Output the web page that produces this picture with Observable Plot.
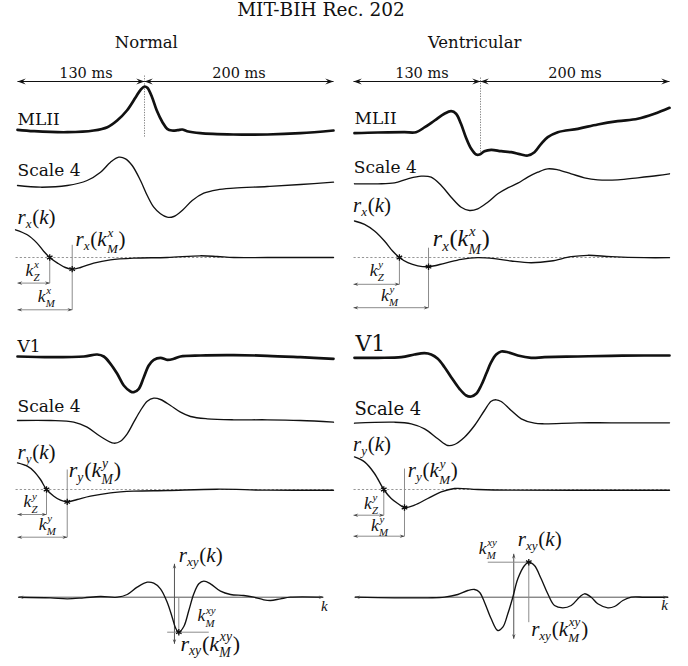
<!DOCTYPE html>
<html><head><meta charset="utf-8">
<script src="https://cdn.jsdelivr.net/npm/d3@7"></script>
<script src="https://cdn.jsdelivr.net/npm/@observablehq/plot@0.6"></script>
<style>
html,body{margin:0;padding:0;background:#fff;}
#title{width:642px;height:22px;line-height:20px;text-align:center;font-family:"DejaVu Serif",serif;font-size:18.5px;color:#111;}
#chart svg{display:block;}
</style></head><body>
<div id="title">MIT-BIH Rec. 202</div>
<div id="chart"></div>
<script>
// ---------- data: [time (ms, relative to the R mark), amplitude] ----------
const mliiNormal = [[-130,0.7],[-113,-0.7],[-79,-1.7],[-52,0],[-38,3.3],[-28,10],[-18,20],[-9,33.3],[-4,40.7],[0,44],[3,42.7],[8,33.3],[13,20],[19,8.3],[24,1.7],[29,0],[35,0.3],[40,1],[45,-0.7],[59,-2.7],[94,-4],[130,-4],[165,-2.7],[200,0]];
const mliiVentricular = [[-129,-2.7],[-105,-2],[-78,-1.7],[-66,-1.7],[-57,3.3],[-47,10],[-37,16.7],[-30,19.3],[-25,16.7],[-20,6.7],[-15,-6.7],[-9.5,-18.3],[-4.4,-24],[-1,-24],[4.2,-20.7],[11.3,-19.3],[21.9,-20.7],[32.5,-21.7],[43.1,-24],[50,-25],[57.1,-21.7],[64.2,-13.3],[71.2,-6.7],[81.8,-1.7],[103,1.7],[124.1,6],[145.3,9.3],[166.4,11.7],[184.1,16.7],[200,22.7]];
const scale4xNormal = [[-130,0],[-106.5,-1.7],[-79,0],[-58.7,5],[-45,13.3],[-34.8,23.3],[-26.3,28.3],[-19.4,26.7],[-12.6,20],[-4.1,5],[2.9,-10],[9.8,-21.7],[16.9,-28.3],[24,-31.7],[31,-31],[39.9,-25],[50.5,-15],[62.7,-7.7],[76.9,-4.3],[94.5,-2.7],[129.8,-1],[165,1],[200,3.3]];
const scale4xVentricular = [[-129,1.7],[-105,1.7],[-88,2.7],[-74.4,6.7],[-60.7,9.3],[-50.5,8.3],[-40.2,0],[-30,-11.7],[-19.8,-21.7],[-11.3,-25],[-2.8,-23.3],[7.7,-16.7],[18.3,-8.3],[28.9,-2.3],[39.5,2.3],[50,8.3],[60.6,13.3],[71.2,16.7],[81.8,15.7],[96,11.7],[110,7.7],[124.1,5.7],[145.3,5.7],[166.4,7.7],[187.6,10],[200,11.7]];
const v1Normal = [[-130,0],[-96,-0.7],[-62,0],[-48.4,2],[-41.7,0],[-34.8,-7.3],[-27.9,-17.3],[-21.2,-29],[-14.3,-35],[-11,-35.7],[-5.8,-32.3],[-0.7,-20.7],[4.5,-9],[9.8,-3.3],[16.9,-1.3],[24,-3.3],[31,-2.3],[38.1,0],[59.3,1],[94.5,1.3],[129.8,0.7],[165,-0.7],[200,-2.3]];
const v1Ventricular = [[-129,-1.3],[-105,-1.3],[-81,-0.7],[-67.6,2],[-57.3,3.3],[-50.5,2],[-43.7,-2.3],[-36.8,-10.7],[-30,-20.7],[-21.5,-32.3],[-14.6,-39],[-9.5,-40],[-4.4,-37.3],[0.7,-29],[6,-17.3],[11.3,-5.7],[16.6,2],[21.9,5],[28.9,4.3],[39.5,1],[53.6,-1.3],[67.7,-0.7],[103,0],[138.3,0.7],[173.5,1],[200,1]];
const scale4yNormal = [[-130,0],[-96,0],[-72.4,-1.7],[-58.7,-6.7],[-45,-16],[-31.4,-22.7],[-24.6,-20.7],[-17.7,-13.3],[-11,-1.7],[-4.1,10],[2.9,19.3],[9.8,22.3],[16.9,21],[27.5,15],[38.1,8.3],[48.7,4],[66.3,1.7],[94.5,0.7],[129.8,0.7],[165,0],[200,-1.7]];
const scale4yVentricular = [[-129,-2.7],[-88,-1.7],[-70.9,-3.3],[-57.3,-8.3],[-43.7,-18.3],[-33.5,-25],[-26.6,-24],[-16.4,-16.7],[-6.1,-5],[4.2,10],[11.3,19.3],[16.6,20.7],[21.9,19],[32.5,10],[43.1,1.7],[57.1,-2.7],[67.7,-3.3],[103,-2.3],[138.3,-2.3],[200,-2.3]];
// autocorrelations: [lag k (ms), r]
const rxNormal = [[-2,27.7],[10,22.7],[20,14.4],[27,6],[33,0],[41,-5.6],[49,-10],[56,-11.6],[64.5,-10],[78,-5.6],[95,-2.3],[119,-0.6],[154,0],[189,1.7],[207,1],[224.5,0],[260,0],[330,0]];
const rxVentricular = [[1,36.5],[11.3,33.2],[21.5,26.5],[31.7,16.5],[40,6.5],[47,0],[55.6,-5.2],[65.8,-8.3],[76.8,-9.2],[93.2,-5.8],[110.2,-1.8],[127.2,-0.2],[144.8,-1.2],[162.5,-3.5],[183.6,-5.2],[204.8,-3.5],[226,0.8],[243.5,2.2],[268.3,0.8],[303.5,-0.2],[330,-0.2]];
const ryNormal = [[0,26.6],[10,23.3],[16.7,18.3],[23.5,10],[29.7,0],[37.2,-6.7],[44,-10.7],[50.9,-12.4],[61.1,-10],[74.7,-6.7],[95.2,-3.4],[119,-1.7],[154,-1],[206.9,0.3],[259.8,-0.7],[330,-0.7]];
const ryVentricular = [[1,32.6],[11.3,27.6],[21.5,16],[31,0],[38.6,-9],[45.3,-14],[52.2,-18],[62.4,-15.7],[76,-9],[89.8,-2.4],[103.4,1],[127.2,0],[162.5,-0.7],[233,-0.7],[330,-0.7]];
// cross-correlation: [lag tau (ms, 0 at the vertical axis), r_xy]
const rxyNormal = [[-160.4,0],[-127.9,-0.6],[-110.8,-1.6],[-93.8,-0.6],[-76.7,0.7],[-59.6,0],[-49.4,2.7],[-39.2,10],[-28.8,15],[-21.9,14],[-14.8,8.4],[-7.7,-5],[-2.4,-20],[1.1,-30.6],[4.6,-35],[9.9,-29.3],[15.2,-13.3],[20.5,3.4],[25.8,13.4],[31,16],[38.1,13.4],[48.7,6],[59.3,2.7],[73.3,1.7],[83.9,0],[94.5,-2.6],[101.6,-3.3],[112.2,-1.6],[122.8,0],[156.3,0]];
const rxyVentricular = [[-163.5,0],[-123.2,-0.6],[-89.2,-0.6],[-72,0],[-58.4,2.7],[-48.2,6.7],[-41.3,7.7],[-36.2,5],[-31,-5],[-23.9,-21.6],[-16.9,-33.3],[-11.6,-30],[-6.3,-16.6],[-1,0],[4.3,18.4],[11.4,31.7],[15.9,35],[21.9,31.7],[29,18.4],[36,3.4],[43.1,-8.3],[51.9,-10.6],[60.8,-8.3],[69.5,0],[74.8,3.4],[81.9,0],[88.9,-6.6],[99.5,-10.6],[106.6,-9.3],[115.4,-3.3],[124.3,0],[138.3,0],[163,0]];

// zero crossings and minima of the autocorrelations
const rMarks = [
  {col:"Normal", row:"rx", kZ:33, kM:56, rM:-11.6, zBot:-25.6, mTop:12.7, mBot:-52.3},
  {col:"Ventricular", row:"rx", kZ:47, kM:76.8, rM:-9.2, zBot:-26.8, mTop:9.8, mBot:-50.2},
  {col:"Normal", row:"ry", kZ:29.7, kM:50.9, rM:-12.4, zBot:-25, mTop:20, mBot:-47.7},
  {col:"Ventricular", row:"ry", kZ:31, kM:52.2, rM:-18, zBot:-25.7, mTop:21, mBot:-46.7}
];
const rxyMarks = [
  {col:"Normal", kM:4.6, rM:-35, hFrom:-7.7, hTo:36.3, vFrom:0, vTo:-37, axL:-160.4, axR:157.7, axB:-46.6, axT:33.4},
  {col:"Ventricular", kM:15.9, rM:35, hFrom:-27.5, hTo:15.9, vFrom:35, vTo:-25, axL:-163.5, axR:163, axB:-41.6, axT:43.4}
];
const spans = [{col:"Normal", from:-130, to:0, label:"130 ms", at:-60}, {col:"Normal", from:0, to:200, label:"200 ms", at:100},
               {col:"Ventricular", from:-130, to:0, label:"130 ms", at:-60}, {col:"Ventricular", from:0, to:200, label:"200 ms", at:100}];
const columnTitles = [{col:"Normal", u:2}, {col:"Ventricular", u:-6}];

// text labels (u in the row's own lag/time unit, a = amplitude offset)
const labels = [
  {text:"MLII", col:"Normal", row:"mlii", kind:"t", u:-130, a:6, st:"trace"},
  {text:"MLII", col:"Ventricular", row:"mlii", kind:"t", u:-129, a:6.7, st:"trace"},
  {text:"Scale 4", col:"Normal", row:"s4x", kind:"t", u:-130, a:9.3, st:"trace"},
  {text:"Scale 4", col:"Ventricular", row:"s4x", kind:"t", u:-129.7, a:12.7, st:"trace"},
  {text:"V1", col:"Normal", row:"v1", kind:"t", u:-130, a:4.3, st:"trace"},
  {text:"V1", col:"Ventricular", row:"v1", kind:"t", u:-128, a:6, st:"traceBig"},
  {text:"Scale 4", col:"Normal", row:"s4y", kind:"t", u:-130, a:8.3, st:"trace"},
  {text:"Scale 4", col:"Ventricular", row:"s4y", kind:"t", u:-129, a:6, st:"traceMid"},
  {text:"$r_{x}(k)", col:"Normal", row:"rx", kind:"t", u:-130, a:34, st:"math"},
  {text:"$r_{x}(k)", col:"Ventricular", row:"rx", kind:"t", u:-130.5, a:46, st:"math"},
  {text:"$r_{x}(k^{x}_{M})", col:"Normal", row:"rx", kind:"k", u:59.4, a:11.3, st:"math"},
  {text:"$r_{x}(k^{x}_{M})", col:"Ventricular", row:"rx", kind:"k", u:81.2, a:11.3, st:"mathBig"},
  {text:"$r_{y}(k)", col:"Normal", row:"ry", kind:"t", u:-130, a:30.7, st:"math"},
  {text:"$r_{y}(k)", col:"Ventricular", row:"ry", kind:"t", u:-130.5, a:39, st:"math"},
  {text:"$r_{y}(k^{y}_{M})", col:"Normal", row:"ry", kind:"k", u:52.5, a:12.3, st:"mathMid"},
  {text:"$r_{y}(k^{y}_{M})", col:"Ventricular", row:"ry", kind:"k", u:55.6, a:12.3, st:"math"},
  {text:"$r_{xy}(k)", col:"Normal", row:"rxy", kind:"tau", u:4.6, a:35, st:"math"},
  {text:"$r_{xy}(k)", col:"Ventricular", row:"rxy", kind:"tau", u:4.3, a:51.7, st:"math"},
  {text:"$r_{xy}(k^{xy}_{M})", col:"Normal", row:"rxy", kind:"tau", u:6.4, a:-53.3, st:"mathMid"},
  {text:"$r_{xy}(k^{xy}_{M})", col:"Ventricular", row:"rxy", kind:"tau", u:18.4, a:-38.3, st:"math"}
];
const labelsCentered = [
  {text:"$k^{x}_{Z}", col:"Normal", row:"rx", kind:"k", u:15.4, a:-18, st:"mathSmall"},
  {text:"$k^{x}_{M}", col:"Normal", row:"rx", kind:"k", u:29.4, a:-44, st:"mathSmall"},
  {text:"$k^{y}_{Z}", col:"Ventricular", row:"rx", kind:"k", u:23.9, a:-18, st:"mathSmall"},
  {text:"$k^{y}_{M}", col:"Ventricular", row:"rx", kind:"k", u:36.9, a:-43, st:"mathSmall"},
  {text:"$k^{y}_{Z}", col:"Normal", row:"ry", kind:"k", u:13.3, a:-17.7, st:"mathSmall"},
  {text:"$k^{y}_{M}", col:"Normal", row:"ry", kind:"k", u:30.4, a:-40.3, st:"mathSmall"},
  {text:"$k^{y}_{Z}", col:"Ventricular", row:"ry", kind:"k", u:18, a:-19.3, st:"mathSmall"},
  {text:"$k^{y}_{M}", col:"Ventricular", row:"ry", kind:"k", u:26.6, a:-41.3, st:"mathSmall"},
  {text:"$k^{xy}_{M}", col:"Normal", row:"rxy", kind:"tau", u:33.9, a:-24, st:"mathSmall"},
  {text:"$k^{xy}_{M}", col:"Ventricular", row:"rxy", kind:"tau", u:-27.5, a:43.4, st:"mathSmall"},
  {text:"$k", col:"Normal", row:"rxy", kind:"tau", u:158.7, a:-13.3, st:"mathTiny"},
  {text:"$k", col:"Ventricular", row:"rxy", kind:"tau", u:159.5, a:-12.6, st:"mathTiny"}
];

// ---------- layout ----------
// the drawn time axis is stretched differently before (130 ms) and after (200 ms) the R mark
const warp = t => t < 0 ? t * 127 / 130 : t * 189 / 200;
const colOffset = {Normal: 0, Ventricular: 336};
const rxyAxisT = {Normal: 31.7, Ventricular: 35.2};
const rowLevel = {top: 585, mlii: 536, s4x: 481, rx: 409, v1: 310, s4y: 246, ry: 177, rxy: 69.3};
const fontSize = {trace: 17, traceBig: 22, traceMid: 18, math: 21, mathMid: 22, mathBig: 24, mathSmall: 17.5, mathTiny: 15};
const INK = "#111", GRAY = "#8c8c8c";

const X = (col, kind, u) => colOffset[col] + warp(kind === "t" ? u : kind === "k" ? u - 130 : u + rxyAxisT[col]);
const Y = (row, a) => rowLevel[row] + a;

const series = [
  ["Normal","mlii","t",mliiNormal,true], ["Ventricular","mlii","t",mliiVentricular,true],
  ["Normal","s4x","t",scale4xNormal,false], ["Ventricular","s4x","t",scale4xVentricular,false],
  ["Normal","rx","k",rxNormal,false], ["Ventricular","rx","k",rxVentricular,false],
  ["Normal","v1","t",v1Normal,true], ["Ventricular","v1","t",v1Ventricular,true],
  ["Normal","s4y","t",scale4yNormal,false], ["Ventricular","s4y","t",scale4yVentricular,false],
  ["Normal","ry","k",ryNormal,false], ["Ventricular","ry","k",ryVentricular,false],
  ["Normal","rxy","tau",rxyNormal,false], ["Ventricular","rxy","tau",rxyVentricular,false]
];
const thick = [], thin = [];
series.forEach(([col,row,kind,arr,isThick], i) => {
  for (const [u,a] of arr) (isThick ? thick : thin).push({x: X(col,kind,u), y: Y(row,a), id: i});
});

// segments
const dotted = [], grayLines = [], inkLines = [], heads = [], smallHeads = [], stars = [];
const seg = (list, x1, y1, x2, y2) => list.push({x1, y1, x2, y2});
for (const s of spans) {
  const y = Y("top", 0);
  seg(inkLines, X(s.col,"t",s.from), y, X(s.col,"t",s.to), y);
  heads.push({x: X(s.col,"t",s.from), y, rot: 180});
  heads.push({x: X(s.col,"t",s.to), y, rot: 0});
}
const dividers = [{col:"Normal", top:6, bottom:-56}, {col:"Ventricular", top:4, bottom:-72}];
const dividerSegs = dividers.map(d => ({x1: X(d.col,"t",0), x2: X(d.col,"t",0), y1: Y("top",d.top), y2: Y("top",d.bottom)}));
for (const m of rMarks) {
  seg(dotted, X(m.col,"k",m.col==="Normal"?-2:0), Y(m.row,0), X(m.col,"k",330), Y(m.row,0));
  seg(grayLines, X(m.col,"k",m.kZ), Y(m.row,0), X(m.col,"k",m.kZ), Y(m.row,m.zBot));
  seg(grayLines, X(m.col,"k",m.kM), Y(m.row,m.mTop), X(m.col,"k",m.kM), Y(m.row,m.mBot));
  seg(grayLines, X(m.col,"k",0), Y(m.row,m.zBot), X(m.col,"k",m.kZ), Y(m.row,m.zBot));
  seg(grayLines, X(m.col,"k",0), Y(m.row,m.mBot), X(m.col,"k",m.kM), Y(m.row,m.mBot));
  smallHeads.push({x: X(m.col,"k",0), y: Y(m.row,m.zBot), rot: 180}, {x: X(m.col,"k",m.kZ), y: Y(m.row,m.zBot), rot: 0});
  smallHeads.push({x: X(m.col,"k",0), y: Y(m.row,m.mBot), rot: 180}, {x: X(m.col,"k",m.kM), y: Y(m.row,m.mBot), rot: 0});
  stars.push({x: X(m.col,"k",m.kZ), y: Y(m.row,0)}, {x: X(m.col,"k",m.kM), y: Y(m.row,m.rM)});
}
const axisLines = [];
for (const m of rxyMarks) {
  seg(axisLines, X(m.col,"tau",m.axL), Y("rxy",0), X(m.col,"tau",m.axR), Y("rxy",0));
  seg(axisLines, X(m.col,"tau",0), Y("rxy",m.axB), X(m.col,"tau",0), Y("rxy",m.axT));
  smallHeads.push({x: X(m.col,"tau",m.axL), y: Y("rxy",0), rot: 180}, {x: X(m.col,"tau",m.axR), y: Y("rxy",0), rot: 0});
  smallHeads.push({x: X(m.col,"tau",0), y: Y("rxy",m.axT), rot: -90}, {x: X(m.col,"tau",0), y: Y("rxy",m.axB), rot: 90});
  seg(grayLines, X(m.col,"tau",m.hFrom), Y("rxy",m.rM), X(m.col,"tau",m.hTo), Y("rxy",m.rM));
  seg(grayLines, X(m.col,"tau",m.kM), Y("rxy",m.vFrom), X(m.col,"tau",m.kM), Y("rxy",m.vTo));
  stars.push({x: X(m.col,"tau",m.kM), y: Y("rxy",m.rM)});
}

// LaTeX-like arrow head (tip at the anchor point, pointing right before rotation)
const stealth = {draw(ctx, size) {
  const r = Math.sqrt(size / Math.PI), L = 2.3 * r, W = 0.85 * r;
  ctx.moveTo(0, 0); ctx.lineTo(-L, -W); ctx.lineTo(-0.62 * L, 0); ctx.lineTo(-L, W); ctx.closePath();
}};

const textLabels = [
  ...columnTitles.map(d => ({text: d.col, x: X(d.col,"t",d.u), y: Y("top",33.3), size: 16.5, anchor: "middle"})),
  ...spans.map(s => ({text: s.label, x: X(s.col,"t",s.at), y: Y("top",4), size: 14.5, anchor: "middle"})),
  ...labels.map(d => ({text: d.text, x: X(d.col,d.kind,d.u), y: Y(d.row,d.a), size: fontSize[d.st], anchor: "start"})),
  ...labelsCentered.map(d => ({text: d.text, x: X(d.col,d.kind,d.u), y: Y(d.row,d.a), size: fontSize[d.st], anchor: "middle"}))
];
const upright = textLabels.filter(d => !d.text.startsWith("$"));
const mathL = textLabels.filter(d => d.text.startsWith("$"));

const chart = Plot.plot({
  width: 688, height: 644, margin: 0,
  x: {domain: [-127, 525], range: [17, 669], axis: null},
  y: {domain: [0, 644], range: [644, 0], axis: null},
  style: {background: "#fff", overflow: "visible"},
  marks: [
    Plot.link(dotted, {x1:"x1", y1:"y1", x2:"x2", y2:"y2", stroke: "#8a8a8a", strokeWidth: 0.9, strokeDasharray: "2.2,2"}),
    Plot.link(dividerSegs, {x1:"x1", y1:"y1", x2:"x2", y2:"y2", stroke: "#777", strokeWidth: 0.9, strokeDasharray: "1.3,1.3"}),
    Plot.link(axisLines, {x1:"x1", y1:"y1", x2:"x2", y2:"y2", stroke: "#555", strokeWidth: 1}),
    Plot.link(grayLines, {x1:"x1", y1:"y1", x2:"x2", y2:"y2", stroke: GRAY, strokeWidth: 1}),
    Plot.link(inkLines, {x1:"x1", y1:"y1", x2:"x2", y2:"y2", stroke: INK, strokeWidth: 1.2}),
    Plot.line(thin, {x:"x", y:"y", z:"id", curve:"catmull-rom", stroke: INK, strokeWidth: 1.35}),
    Plot.line(thick, {x:"x", y:"y", z:"id", curve:"catmull-rom", stroke: INK, strokeWidth: 2.7}),
    Plot.dot(heads, {x:"x", y:"y", rotate:"rot", symbol: stealth, r: 3.6, fill: INK, stroke: "none"}),
    Plot.dot(smallHeads, {x:"x", y:"y", rotate:"rot", symbol: stealth, r: 2.1, fill: "#444", stroke: "none"}),
    Plot.dot(stars, {x:"x", y:"y", symbol: "asterisk", r: 3, stroke: INK, strokeWidth: 1.3}),
    Plot.text(upright.filter(d => d.anchor !== "start"), {x:"x", y:"y", text:"text", fontSize:"size", textAnchor:"middle", lineAnchor:"bottom", fontFamily:"DejaVu Serif", fill: INK}),
    Plot.text(upright.filter(d => d.anchor === "start"), {x:"x", y:"y", text:"text", fontSize:"size", textAnchor:"start", lineAnchor:"bottom", fontFamily:"DejaVu Serif", fill: INK}),
    Plot.text(mathL.filter(d => d.anchor === "start"), {x:"x", y:"y", text:"text", fontSize:"size", textAnchor:"start", lineAnchor:"bottom", fontFamily:"Liberation Serif", fill: INK}),
    Plot.text(mathL.filter(d => d.anchor === "middle"), {x:"x", y:"y", text:"text", fontSize:"size", textAnchor:"middle", lineAnchor:"bottom", fontFamily:"Liberation Serif", fill: INK})
  ]
});
document.getElementById("chart").appendChild(chart);

// turn "$r_{x}(k^{x}_{M})" strings into italic text with sub/superscripts
const NS = "http://www.w3.org/2000/svg";
function mathify(el) {
  const raw = el.textContent;
  if (!raw.startsWith("$")) return;
  const s = raw.slice(1);
  const fs = parseFloat(getComputedStyle(el).fontSize);
  const ss = fs * 0.62;
  const items = [];
  for (let i = 0; i < s.length;) {
    const c = s[i];
    if (c === "_" || c === "^") {
      i++;
      let g;
      if (s[i] === "{") { const j = s.indexOf("}", i); g = s.slice(i + 1, j); i = j + 1; }
      else { g = s[i]; i++; }
      let last = items[items.length - 1];
      if (!last || last.type !== "script") { last = {type: "script"}; items.push(last); }
      last[c === "_" ? "sub" : "sup"] = g;
    } else { items.push({type: "char", c}); i++; }
  }
  el.textContent = "";
  const mk = (txt, size, style, dy, dx) => {
    const t = document.createElementNS(NS, "tspan");
    t.textContent = txt;
    t.setAttribute("font-size", size);
    t.setAttribute("font-style", style);
    if (dy) t.setAttribute("dy", dy);
    if (dx) t.setAttribute("dx", dx);
    el.appendChild(t);
    return t;
  };
  let off = 0, pend = 0;
  for (const it of items) {
    if (it.type === "char") {
      mk(it.c, fs, /[A-Za-z]/.test(it.c) ? "italic" : "normal", -off, pend);
      off = 0; pend = 0;
    } else {
      const supY = -0.43 * fs, subY = it.sup ? 0.31 * fs : 0.2 * fs;
      let wsup = 0;
      if (it.sup) { const t = mk(it.sup, ss, "italic", supY - off, pend + 0.8); off = supY; wsup = t.getComputedTextLength() + 0.8; pend = 0; }
      if (it.sub) {
        const t = mk(it.sub, ss, "italic", subY - off, it.sup ? -wsup + 0.3 : pend);
        off = subY;
        const wsub = t.getComputedTextLength() + 0.3;
        pend = (it.sup ? Math.max(0, wsup - wsub) : 0) + 0.8;
      } else pend = 0.8;
    }
  }
}
chart.querySelectorAll("text").forEach(mathify);
</script>
</body></html>
